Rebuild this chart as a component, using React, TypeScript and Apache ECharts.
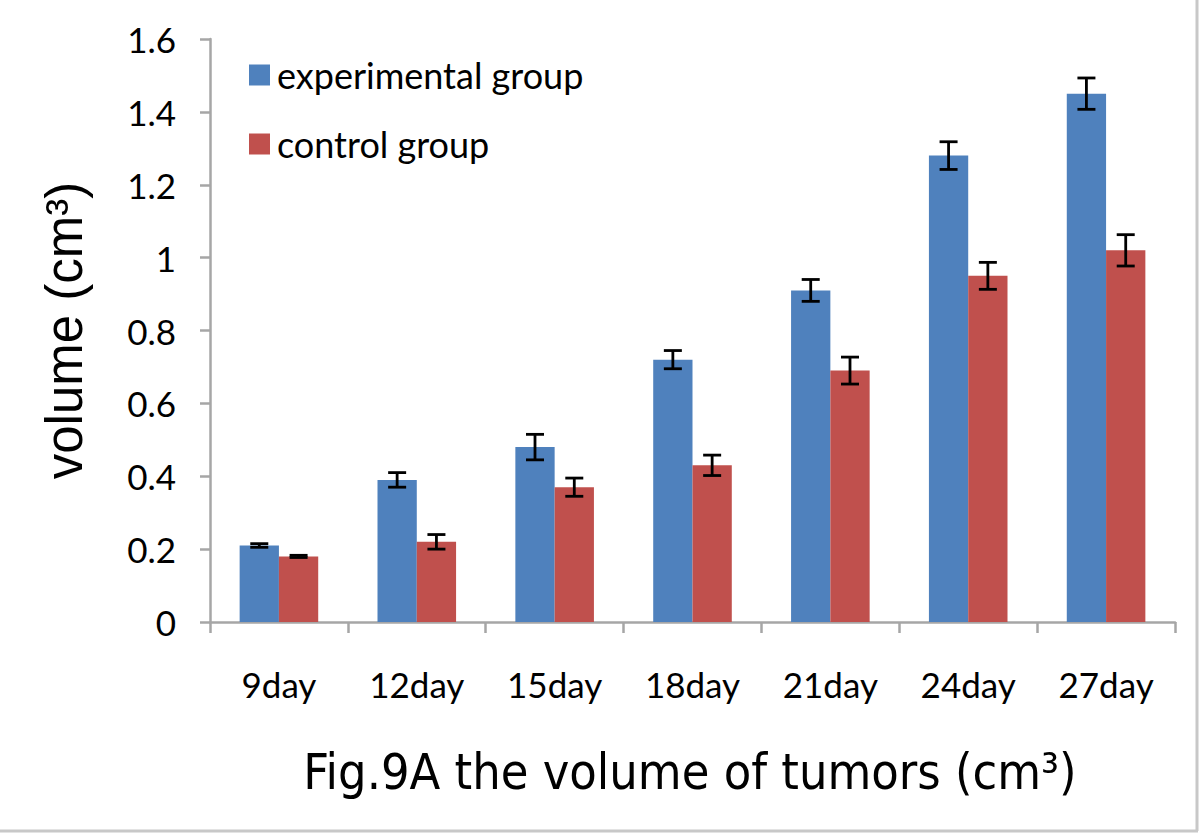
import React, { useEffect, useRef } from "react";
import * as echarts from "echarts";

const categories = ["9day", "12day", "15day", "18day", "21day", "24day", "27day"];
const experimental = [0.21, 0.39, 0.48, 0.72, 0.91, 1.28, 1.45];
const experimentalErr = [0.005, 0.02, 0.035, 0.025, 0.03, 0.038, 0.043];
const control = [0.18, 0.22, 0.37, 0.43, 0.69, 0.95, 1.02];
const controlErr = [0.003, 0.02, 0.025, 0.028, 0.037, 0.037, 0.043];
const seriesNames = ["experimental group", "control group"];
const yTicks = { min: 0, max: 1.6, interval: 0.2 };

const FONT = "Lato, 'Open Sans', sans-serif";
const NAME_FONT = "'Liberation Sans', Arial, sans-serif";
const TITLE_FONT = "'DejaVu Sans Condensed', 'DejaVu Sans', sans-serif";

const CAT_GAP = 0.43;

function errorSeries(values: number[], errs: number[], side: number, name: string) {
  return {
    type: "custom",
    name,
    z: 10,
    data: values.map((v, i) => [i, v, errs[i]]),
    renderItem: (params: any, api: any) => {
      const idx = api.value(0);
      const v = api.value(1);
      const e = api.value(2);
      const band = api.size([1, 0])[0];
      const barW = (band * (1 - CAT_GAP)) / 2;
      const c = api.coord([idx, v]);
      const x = c[0] + (side * barW) / 2;
      const yHi = api.coord([idx, v + e])[1];
      const yLo = api.coord([idx, v - e])[1];
      const cap = 9;
      const style = { stroke: "#000", lineWidth: 2.8 };
      return {
        type: "group",
        children: [
          { type: "line", shape: { x1: x, y1: yHi, x2: x, y2: yLo }, style },
          { type: "line", shape: { x1: x - cap, y1: yHi, x2: x + cap, y2: yHi }, style },
          { type: "line", shape: { x1: x - cap, y1: yLo, x2: x + cap, y2: yLo }, style },
        ],
      };
    },
  };
}

export default function App() {
  const ref = useRef<HTMLDivElement>(null);
  useEffect(() => {
    if (!ref.current) return;
    const chart = echarts.init(ref.current, null, { renderer: "svg" });
    chart.setOption({
      animation: false,
      backgroundColor: "#fff",
      grid: { left: 210, right: 25, top: 39, bottom: 211, containLabel: false },
      legend: {
        data: seriesNames,
        orient: "vertical",
        left: 244,
        top: 52,
        itemWidth: 21,
        itemHeight: 21,
        itemGap: 33,
        icon: "rect",
        textStyle: { fontFamily: FONT, fontSize: 36, color: "#000", padding: [0, 0, 0, 2] },
      },
      xAxis: {
        type: "category",
        data: categories,
        axisLine: { lineStyle: { color: "#a6a6a6", width: 2.5 } },
        axisTick: { show: true, length: 11, lineStyle: { color: "#a6a6a6", width: 2.5 } },
        axisLabel: { fontFamily: FONT, fontSize: 35, color: "#000", margin: 44 },
      },
      yAxis: {
        type: "value",
        min: yTicks.min,
        max: yTicks.max,
        interval: yTicks.interval,
        name: "volume (cm³)",
        nameLocation: "middle",
        nameRotate: 90,
        nameGap: 120,
        nameTextStyle: { fontFamily: NAME_FONT, fontSize: 51, color: "#000" },
        splitLine: { show: false },
        axisLine: { show: true, lineStyle: { color: "#a6a6a6", width: 2.5 } },
        axisTick: { show: true, length: 10, lineStyle: { color: "#a6a6a6", width: 2.5 } },
        axisLabel: {
          fontFamily: FONT,
          fontSize: 35,
          color: "#000",
          margin: 34,
          formatter: (v: number) => (Math.abs(v - Math.round(v)) < 1e-9 ? String(Math.round(v)) : v.toFixed(1)),
        },
      },
      graphic: [
        {
          type: "text",
          x: 690,
          y: 772,
          style: {
            text: "Fig.9A the volume of tumors (cm³)",
            fontFamily: TITLE_FONT,
            fontSize: 50,
            fill: "#000",
            align: "center",
            verticalAlign: "middle",
          },
        },
        { type: "line", shape: { x1: 1197, y1: 0, x2: 1197, y2: 831 }, style: { stroke: "#c8c8c8", lineWidth: 3 } },
        { type: "line", shape: { x1: 0, y1: 831, x2: 1198, y2: 831 }, style: { stroke: "#c8c8c8", lineWidth: 3 } },
      ],
      series: [
        {
          type: "bar",
          name: seriesNames[0],
          data: experimental,
          barGap: "0%",
          barCategoryGap: "43%",
          itemStyle: { color: "#4F81BD" },
        },
        {
          type: "bar",
          name: seriesNames[1],
          data: control,
          barGap: "0%",
          barCategoryGap: "43%",
          itemStyle: { color: "#C0504D" },
        },
        errorSeries(experimental, experimentalErr, -1, "err-exp"),
        errorSeries(control, controlErr, 1, "err-ctl"),
      ],
    });
    return () => chart.dispose();
  }, []);
  return <div ref={ref} style={{ position: "fixed", left: 0, top: 0, width: 1200, height: 833 }} />;
}
